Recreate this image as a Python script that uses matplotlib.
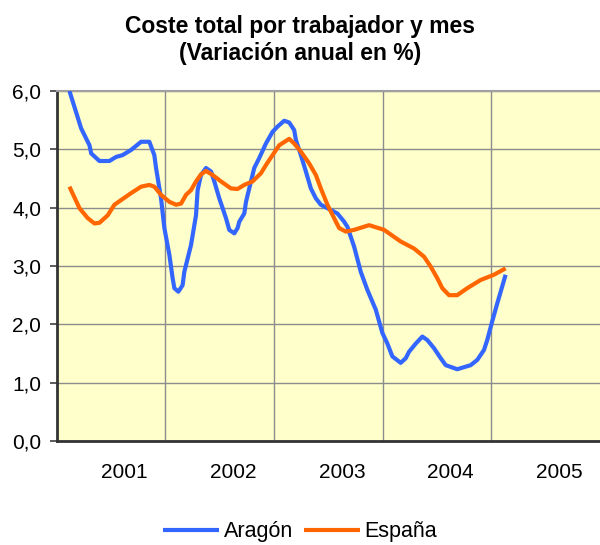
import matplotlib
matplotlib.use("Agg")
import matplotlib.pyplot as plt

plt.rcParams['font.family'] = ['Liberation Sans', 'DejaVu Sans']

title = "Coste total por trabajador y mes\n(Variación anual en %)"
year_labels = ["2001", "2002", "2003", "2004", "2005"]
y_ticks = [0.0, 1.0, 2.0, 3.0, 4.0, 5.0, 6.0]

# month index (0 = left edge of the axis), values in %
months_aragon = [1.43, 2.72, 3.64, 3.83, 4.74, 5.84, 6.58, 7.28, 8.24, 9.34, 10.25, 10.80,
                 10.99, 11.54, 11.91, 12.46, 12.82, 13.01, 13.45, 13.92, 14.11, 14.85, 15.40,
                 15.58, 15.95, 16.50, 17.06, 17.42, 17.97, 18.71, 19.07, 19.63, 19.99, 20.18,
                 20.73, 20.92, 21.28, 21.83, 22.38, 23.12, 23.85, 24.40, 25.14, 25.69, 26.24,
                 26.43, 26.98, 27.53, 28.08, 28.63, 29.18, 30.29, 31.01, 31.75, 32.12, 32.86,
                 33.59, 34.32, 35.25, 35.98, 36.53, 37.08, 38.00, 38.56, 38.92, 39.66, 40.39,
                 40.94, 41.68, 42.41, 42.97, 44.24, 45.72, 46.45, 47.19, 47.55, 48.10, 48.66,
                 49.58]
aragon = [6.00, 5.36, 5.07, 4.93, 4.80, 4.80, 4.87, 4.90, 4.99, 5.13, 5.13, 4.90,
          4.68, 4.16, 3.65, 3.19, 2.79, 2.62, 2.56, 2.67, 2.90, 3.36, 3.87,
          4.30, 4.56, 4.68, 4.62, 4.45, 4.16, 3.82, 3.62, 3.56, 3.65, 3.76,
          3.90, 4.10, 4.33, 4.68, 4.85, 5.10, 5.30, 5.39, 5.49, 5.46, 5.33,
          5.16, 4.90, 4.62, 4.33, 4.16, 4.05, 3.96, 3.90, 3.76, 3.67, 3.33,
          2.90, 2.59, 2.25, 1.85, 1.67, 1.45, 1.34, 1.42, 1.53, 1.67, 1.79,
          1.73, 1.59, 1.42, 1.30, 1.23, 1.30, 1.39, 1.56, 1.73, 2.05, 2.36,
          2.85]

months_espana = [1.43, 2.54, 3.45, 4.19, 4.74, 5.66, 6.39, 7.13, 8.24, 9.34, 10.25, 10.80,
                 11.54, 12.46, 13.20, 13.75, 14.30, 14.85, 15.40, 15.95, 16.50, 17.23, 18.16,
                 19.26, 19.99, 20.73, 21.64, 22.57, 23.12, 23.85, 24.59, 25.69, 26.24, 26.98,
                 27.89, 28.63, 29.18, 29.91, 30.65, 31.20, 31.94, 32.86, 34.51, 36.16, 38.00,
                 39.47, 40.57, 41.31, 42.04, 42.59, 43.33, 44.24, 45.35, 46.82, 48.29, 49.58]
espana = [4.36, 3.99, 3.82, 3.73, 3.74, 3.87, 4.05, 4.13, 4.25, 4.36, 4.39, 4.36,
          4.22, 4.10, 4.05, 4.07, 4.22, 4.30, 4.45, 4.57, 4.63, 4.56, 4.45,
          4.33, 4.32, 4.39, 4.45, 4.59, 4.73, 4.90, 5.07, 5.18, 5.10, 4.96,
          4.76, 4.56, 4.33, 4.05, 3.82, 3.65, 3.59, 3.62, 3.70, 3.62, 3.42,
          3.30, 3.16, 2.99, 2.79, 2.62, 2.50, 2.50, 2.62, 2.76, 2.85, 2.96]

fig = plt.figure(figsize=(6.0, 5.45), dpi=100)
ax = fig.add_axes([56.5 / 600, 1 - 441 / 545, 1 - 56.5 / 600, (441 - 91) / 545])
ax.set_facecolor('#FFFFCC')

ax.plot(months_aragon, aragon, color='#3366FF', lw=3, label='Aragón',
        solid_joinstyle='round', solid_capstyle='butt', zorder=3)
ax.plot(months_espana, espana, color='#FF6600', lw=3, label='España',
        solid_joinstyle='round', solid_capstyle='butt', zorder=3)

ax.set_xlim(0, 60)
ax.set_ylim(0, 6)
ax.set_yticks(y_ticks)
ax.set_yticklabels([f"{v:.1f}".replace('.', ',') for v in y_ticks], fontsize=15)
ax.set_xticks([7.5 + 12 * i for i in range(len(year_labels))])
ax.set_xticklabels(year_labels, fontsize=15)
ax.set_xticks([12, 24, 36, 48], minor=True)
ax.tick_params(axis='x', which='both', length=0, pad=16)
ax.tick_params(axis='y', length=5, width=1.2, color='#404040', pad=6, direction='out')
ax.grid(True, which='minor', axis='x', color='#8c8c8c', lw=1)
ax.grid(True, which='major', axis='y', color='#8c8c8c', lw=1)
ax.set_axisbelow(True)

ax.spines['left'].set_color('#333333')
ax.spines['left'].set_linewidth(2)
ax.spines['bottom'].set_color('#333333')
ax.spines['bottom'].set_linewidth(2)
ax.spines['top'].set_color('#a0a0a0')
ax.spines['top'].set_linewidth(1.5)
ax.spines['right'].set_visible(False)

fig.text(0.5, 1 - 40 / 545, title, ha='center', va='center', fontsize=16.5,
         fontweight='bold', linespacing=1.25)

fig.legend(loc='center', bbox_to_anchor=(0.5, 1 - 532 / 545), ncol=2, frameon=False,
           fontsize=15.5, handlelength=2.6, handletextpad=0.2, columnspacing=0.5,
           borderaxespad=0)

fig.savefig('out.png', dpi=100)
